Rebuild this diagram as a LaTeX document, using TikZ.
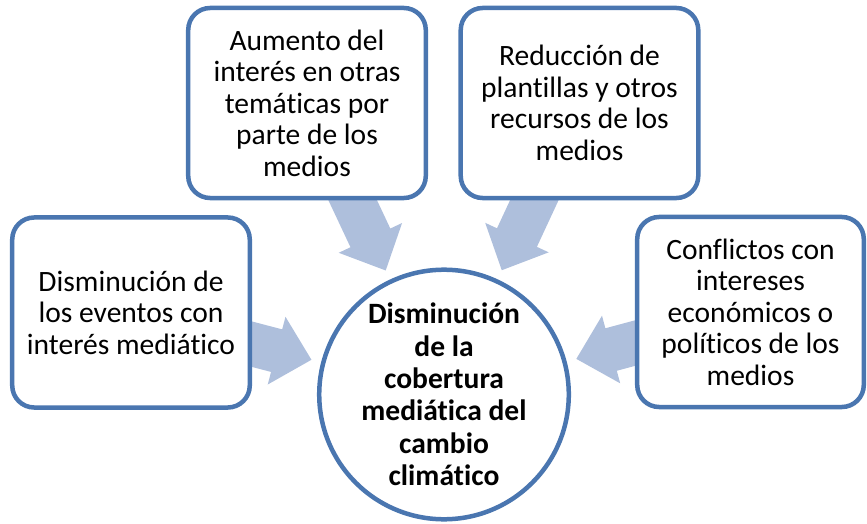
\documentclass[tikz,border=0pt]{standalone}
\usepackage{fontspec}
\setmainfont{Carlito}[Ligatures=NoCommon]
\usetikzlibrary{calc, backgrounds}
\definecolor{framecol}{RGB}{74,118,176}
\definecolor{arrowcol}{RGB}{174,191,220}
\tikzset{
  causebox/.style={draw=framecol, line width=3.2pt, fill=white, rounded corners=0.55cm,
    align=center, inner sep=0pt, minimum width=5.9375cm, minimum height=4.75cm,
    font=\fontsize{21pt}{22.4pt}\selectfont},
  hubcircle/.style={circle, draw=framecol, line width=3.2pt, fill=white, align=center,
    inner sep=0pt, minimum size=6.2375cm, font=\fontsize{21pt}{23pt}\selectfont\bfseries},
  flowarrow/.style={fill=arrowcol}
}

\begin{document}
\begin{tikzpicture}[x=0.025cm, y=-0.025cm]
  \useasboundingbox (0,0) rectangle (867,524);

  % Center
  \node[hubcircle] (hub) at (444,394.5) {Disminución\\de la\\cobertura\\mediática del\\cambio\\climático};

  % Causes
  \node[causebox] (events) at (131,312.5) {Disminución de\\los eventos con\\interés mediático};
  \node[causebox] (topics) at (307,103) {Aumento del\\interés en otras\\temáticas por\\parte de los\\medios};
  \node[causebox] (staff) at (579.5,103) {Reducción de\\plantillas y otros\\recursos de los\\medios};
  \node[causebox, minimum width=5.6625cm] (conflict) at (750.5,312) {Conflictos con\\intereses\\económicos o\\políticos de los\\medios};

  % Arrows toward the center
  \begin{scope}[on background layer]
    \foreach \src in {events, topics, staff, conflict} {
      \coordinate (tip) at ($(hub.center)!3.425cm!(\src.center)$);
      \coordinate (base) at ($(hub.center)!4.325cm!(\src.center)$);
      \fill[flowarrow] (tip) -- ($(base)!0.875cm!90:(hub.center)$) -- ($(base)!0.55cm!90:(hub.center)$)
        -- ($(\src.center)!0.55cm!90:(hub.center)$) -- ($(\src.center)!0.55cm!-90:(hub.center)$)
        -- ($(base)!0.55cm!-90:(hub.center)$) -- ($(base)!0.875cm!-90:(hub.center)$) -- cycle;
    }
  \end{scope}
\end{tikzpicture}
\end{document}
